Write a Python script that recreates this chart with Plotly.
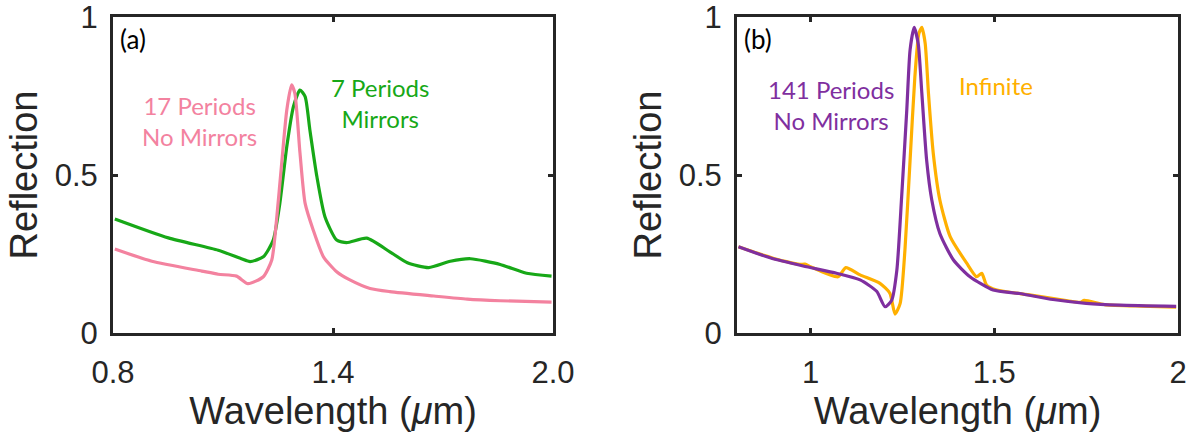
import plotly.graph_objects as go

# Panel (a)
wl_a_green = [0.805, 0.951, 1.087, 1.150, 1.174, 1.210, 1.237, 1.255, 1.274, 1.292, 1.310, 1.324, 1.337, 1.356, 1.378, 1.410, 1.437, 1.492, 1.555, 1.603, 1.661, 1.720, 1.775, 1.856, 1.928, 1.996]
r_a_green = [0.361, 0.301, 0.262, 0.235, 0.226, 0.241, 0.294, 0.410, 0.590, 0.716, 0.769, 0.748, 0.642, 0.495, 0.368, 0.294, 0.286, 0.300, 0.257, 0.222, 0.207, 0.227, 0.235, 0.217, 0.189, 0.180]

wl_a_pink = [0.805, 0.906, 1.042, 1.087, 1.137, 1.168, 1.210, 1.233, 1.246, 1.260, 1.274, 1.287, 1.296, 1.310, 1.324, 1.346, 1.374, 1.410, 1.446, 1.501, 1.555, 1.675, 1.766, 1.856, 1.996]
r_a_pink = [0.266, 0.227, 0.196, 0.186, 0.180, 0.156, 0.178, 0.231, 0.358, 0.537, 0.706, 0.785, 0.758, 0.569, 0.410, 0.326, 0.241, 0.194, 0.168, 0.141, 0.131, 0.117, 0.107, 0.102, 0.098]

# Panel (b)
wl_b_purple = [0.804, 0.890, 0.980, 1.071, 1.135, 1.180, 1.203, 1.221, 1.235, 1.248, 1.262, 1.271, 1.282, 1.293, 1.303, 1.316, 1.330, 1.352, 1.389, 1.434, 1.497, 1.569, 1.660, 1.750, 1.841, 1.995]
r_b_purple = [0.273, 0.238, 0.212, 0.189, 0.168, 0.132, 0.083, 0.104, 0.199, 0.431, 0.706, 0.896, 0.967, 0.917, 0.758, 0.547, 0.421, 0.315, 0.231, 0.178, 0.136, 0.125, 0.106, 0.094, 0.088, 0.084]

wl_b_orange = [0.804, 0.870, 0.885, 0.900, 0.970, 0.985, 1.000, 1.075, 1.096, 1.135, 1.189, 1.216, 1.230, 1.244, 1.257, 1.271, 1.284, 1.295, 1.303, 1.312, 1.321, 1.334, 1.352, 1.380, 1.425, 1.452, 1.466, 1.479, 1.507, 1.600, 1.700, 1.735, 1.745, 1.800, 1.900, 1.995]
r_b_orange = [0.273, 0.247, 0.242, 0.236, 0.217, 0.218, 0.210, 0.178, 0.207, 0.184, 0.157, 0.126, 0.060, 0.094, 0.263, 0.547, 0.811, 0.948, 0.967, 0.917, 0.758, 0.569, 0.421, 0.305, 0.221, 0.178, 0.189, 0.152, 0.136, 0.120, 0.102, 0.097, 0.103, 0.090, 0.085, 0.082]

x_ticks_a = [0.8, 1.4, 2.0]
x_ticktext_a = ["0.8", "1.4", "2.0"]
x_ticks_b = [1, 1.5, 2]
x_ticktext_b = ["1", "1.5", "2"]
y_ticks = [0, 0.5, 1]
y_ticktext = ["0", "0.5", "1"]

PINK = "#F3829F"
GREEN = "#17A817"
PURPLE = "#7F2F9F"
ORANGE = "#FFB000"
FRAME = "#262626"

fig = go.Figure()
line_kw = dict(shape="spline", smoothing=0.6, width=3.2)
fig.add_trace(go.Scatter(x=wl_a_green, y=r_a_green, mode="lines", line=dict(color=GREEN, **line_kw), xaxis="x", yaxis="y"))
fig.add_trace(go.Scatter(x=wl_a_pink, y=r_a_pink, mode="lines", line=dict(color=PINK, **line_kw), xaxis="x", yaxis="y"))
fig.add_trace(go.Scatter(x=wl_b_orange, y=r_b_orange, mode="lines", line=dict(color=ORANGE, **line_kw), xaxis="x2", yaxis="y2"))
fig.add_trace(go.Scatter(x=wl_b_purple, y=r_b_purple, mode="lines", line=dict(color=PURPLE, **line_kw), xaxis="x2", yaxis="y2"))

tickfont = dict(family="Liberation Sans, Arial", size=31, color=FRAME)
titlefont = dict(family="Liberation Sans, Arial", size=38, color=FRAME)
ax_common = dict(showline=True, linewidth=3, linecolor=FRAME, mirror="ticks", ticks="inside",
                 ticklen=5, tickwidth=3, tickcolor=FRAME, showgrid=False, zeroline=False,
                 tickfont=tickfont, automargin=False, ticklabeloverflow="allow")
x_common = dict(ticklabelstandoff=10, **ax_common)
y_common = dict(ticklabelstandoff=6, **ax_common)

y_dom = [111/444, 427/444]
fig.update_layout(
    width=1194, height=444, margin=dict(l=0, r=0, t=0, b=0),
    paper_bgcolor="white", plot_bgcolor="white", showlegend=False,
    xaxis=dict(domain=[113/1194, 553/1194], range=[0.8, 2.0], tickvals=x_ticks_a,
               ticktext=x_ticktext_a, anchor="y",
               title=dict(text="Wavelength (<i>μ</i>m)", font=titlefont, standoff=2), **x_common),
    yaxis=dict(domain=y_dom, range=[0, 1], tickvals=y_ticks, ticktext=y_ticktext, anchor="x",
               title=dict(text="Reflection", font=titlefont, standoff=6), **y_common),
    xaxis2=dict(domain=[737/1194, 1178/1194], range=[0.8, 2.0], tickvals=x_ticks_b,
                ticktext=x_ticktext_b, anchor="y2",
                title=dict(text="Wavelength (<i>μ</i>m)", font=titlefont, standoff=2), **x_common),
    yaxis2=dict(domain=y_dom, range=[0, 1], tickvals=y_ticks, ticktext=y_ticktext, anchor="x2",
                title=dict(text="Reflection", font=titlefont, standoff=6), **y_common),
)

afont = "Lato, Open Sans, sans-serif"
annos = [
    dict(x=0.012, y=0.93, xref="x domain", yref="y domain", text="(a)", font=dict(family=afont, size=26, color="black"), xanchor="left", yanchor="middle"),
    dict(x=0.012, y=0.93, xref="x2 domain", yref="y2 domain", text="(b)", font=dict(family=afont, size=26, color="black"), xanchor="left", yanchor="middle"),
    dict(x=1.037, y=0.671, xref="x", yref="y", text="17 Periods<br>No Mirrors", font=dict(family=afont, size=24, color=PINK), align="center"),
    dict(x=1.528, y=0.728, xref="x", yref="y", text="7 Periods<br>Mirrors", font=dict(family=afont, size=24, color=GREEN), align="center"),
    dict(x=1.056, y=0.722, xref="x2", yref="y2", text="141 Periods<br>No Mirrors", font=dict(family=afont, size=24, color=PURPLE), align="center"),
    dict(x=1.505, y=0.782, xref="x2", yref="y2", text="Infinite", font=dict(family=afont, size=24, color=ORANGE), align="center"),
]
for a in annos:
    a.setdefault("showarrow", False)
    fig.add_annotation(**a)

fig.write_html("out.html")
